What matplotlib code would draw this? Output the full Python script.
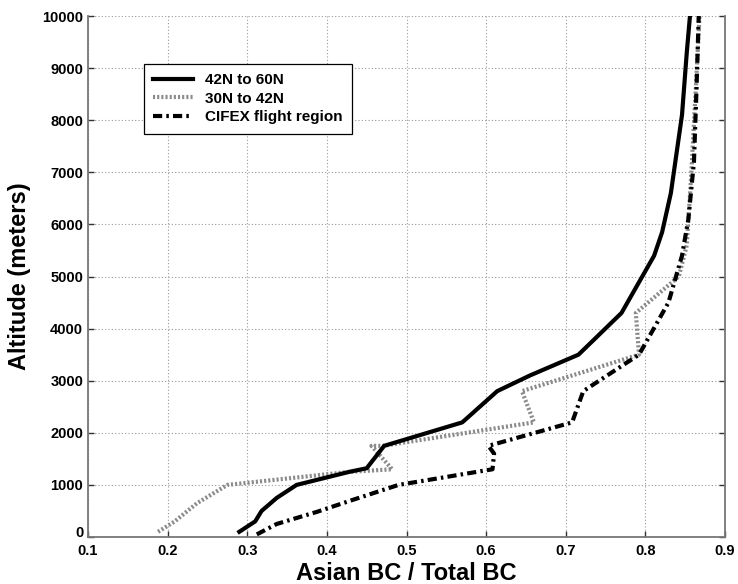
import matplotlib
matplotlib.use("Agg")
import matplotlib.pyplot as plt
import matplotlib.transforms as mtransforms

plt.rcParams['font.family'] = ['Liberation Sans', 'DejaVu Sans']

# 42N to 60N
n_x = [0.29, 0.31, 0.318, 0.337, 0.362, 0.428, 0.45, 0.472, 0.57, 0.614, 0.655, 0.716, 0.77, 0.811, 0.821, 0.832, 0.846, 0.852, 0.856]
n_y = [100, 300, 500, 750, 1000, 1250, 1320, 1750, 2200, 2800, 3100, 3500, 4300, 5400, 5850, 6600, 8100, 9300, 10000]

# 30N to 42N
m_x = [0.188, 0.209, 0.237, 0.275, 0.428, 0.482, 0.456, 0.47, 0.66, 0.645, 0.792, 0.788, 0.842, 0.852, 0.857, 0.863, 0.868]
m_y = [100, 300, 650, 1000, 1250, 1300, 1750, 1750, 2200, 2800, 3500, 4300, 5000, 5600, 6800, 8500, 10000]

# CIFEX flight region
c_x = [0.312, 0.337, 0.387, 0.43, 0.49, 0.608, 0.61, 0.603, 0.708, 0.722, 0.792, 0.829, 0.846, 0.854, 0.861, 0.864, 0.867]
c_y = [50, 250, 480, 700, 1000, 1300, 1600, 1750, 2200, 2800, 3500, 4500, 5400, 6100, 7200, 8500, 10000]

x_ticks = [0.1, 0.2, 0.3, 0.4, 0.5, 0.6, 0.7, 0.8, 0.9]
y_ticks = [0, 1000, 2000, 3000, 4000, 5000, 6000, 7000, 8000, 9000, 10000]

fig = plt.figure(figsize=(7.38, 5.84), dpi=100)
ax = fig.add_axes([88/738, 47/584, (725-88)/738, (537-16)/584])

ax.plot(n_x, n_y, color='black', lw=3.0, solid_joinstyle='round', label='42N to 60N', zorder=3)
ax.plot(m_x, m_y, color='#8a8a8a', lw=3.0, linestyle=(0, (0.5, 0.5)), label='30N to 42N', zorder=2)
ax.plot(c_x, c_y, color='black', lw=3.0, linestyle=(0, (2.2, 1.0, 0.6, 1.0)), label='CIFEX flight region', zorder=3)

ax.set_xlim(0.1, 0.9)
ax.set_ylim(0, 10000)
ax.set_xticks(x_ticks)
ax.set_yticks(y_ticks)
ax.set_xticklabels([f"{v:g}" for v in x_ticks])
ax.set_yticklabels([str(v) for v in y_ticks])
ax.tick_params(direction='in', length=4, width=1, colors='#333333', labelsize=10.5, labelcolor='black')
ax.tick_params(axis='x', pad=5)
for lab in ax.get_xticklabels() + ax.get_yticklabels():
    lab.set_fontweight('bold')
# lift the "0" label slightly so it sits above "0.1"
zero_lab = ax.get_yticklabels()[0]
zero_lab.set_transform(zero_lab.get_transform() + mtransforms.ScaledTranslation(0, 4/72, fig.dpi_scale_trans))

ax.grid(True, color='#999999', linestyle=(0, (1, 2)), linewidth=0.8)
ax.set_axisbelow(True)
for s in ['left', 'bottom', 'right']:
    ax.spines[s].set_color('#777777')
    ax.spines[s].set_linewidth(1.3)
ax.spines['top'].set_visible(False)
ax.yaxis.set_ticks_position('both')

ax.set_xlabel('Asian BC / Total BC', fontsize=17, fontweight='bold', labelpad=3)
ax.set_ylabel('Altitude (meters)', fontsize=17, fontweight='bold', labelpad=8)

leg = ax.legend(loc='upper left', bbox_to_anchor=(144/738, (584-64)/584), bbox_transform=fig.transFigure,
                borderaxespad=0, fancybox=False, framealpha=1, edgecolor='black',
                prop={'weight': 'bold', 'size': 11}, handlelength=2.6, borderpad=0.6,
                labelspacing=0.3, handletextpad=0.8)
leg.get_frame().set_linewidth(0.9)

fig.savefig('out.png', dpi=100)
